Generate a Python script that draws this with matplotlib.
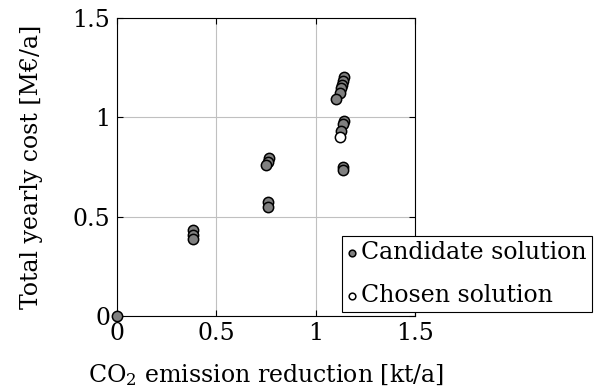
import matplotlib
matplotlib.use("Agg")
import matplotlib.pyplot as plt

plt.rcParams.update({
    "font.family": "serif",
    "font.serif": ["DejaVu Serif"],
    "font.size": 17,
    "mathtext.fontset": "dejavuserif",
})

# candidate solutions (CO2 reduction kt/a, cost M€/a)
cand_x = [0.0, 0.384, 0.384, 0.384,
          0.767, 0.760, 0.750, 0.762, 0.762,
          1.142, 1.139, 1.134, 1.130, 1.122, 1.102,
          1.142, 1.139, 1.130, 1.139, 1.139]
cand_y = [0.0, 0.433, 0.408, 0.388,
          0.794, 0.775, 0.760, 0.575, 0.550,
          1.204, 1.184, 1.163, 1.146, 1.121, 1.090,
          0.981, 0.966, 0.930, 0.748, 0.735]

chosen_x = [1.122]
chosen_y = [0.902]

xticks = [0, 0.5, 1, 1.5]
yticks = [0, 0.5, 1, 1.5]

fig = plt.figure(figsize=(5.95, 3.91), dpi=100)
ax = fig.add_axes([117 / 595, 1 - 316 / 391, 298 / 595, 298 / 391])

ax.scatter(cand_x, cand_y, s=55, facecolor="#808080", edgecolor="black",
           linewidth=1.1, zorder=3, clip_on=False, label="Candidate solution")
ax.scatter(chosen_x, chosen_y, s=55, facecolor="white", edgecolor="black",
           linewidth=1.1, zorder=4, clip_on=False, label="Chosen solution")

ax.set_xlim(0, 1.5)
ax.set_ylim(0, 1.5)
ax.set_xticks(xticks)
ax.set_yticks(yticks)
ax.set_xticklabels(["0", "0.5", "1", "1.5"])
ax.set_yticklabels(["0", "0.5", "1", "1.5"])
ax.grid(True, color="#c0c0c0", linewidth=0.8)
ax.set_axisbelow(True)
ax.tick_params(direction="in", top=True, right=True, length=4)
ax.tick_params(axis="x", pad=4)
ax.tick_params(axis="y", pad=5)
for sp in ax.spines.values():
    sp.set_linewidth(0.8)

ax.set_xlabel("CO$_2$ emission reduction [kt/a]", labelpad=13)
ax.set_ylabel("Total yearly cost [M€/a]", labelpad=21)

leg = ax.legend(loc="lower left", bbox_to_anchor=(0.755, 0.013),
                frameon=True, fancybox=False, framealpha=1, edgecolor="black",
                handlelength=0.4, handletextpad=0.2, borderpad=0.22,
                labelspacing=0.85, markerscale=0.65, borderaxespad=0)
leg.get_frame().set_linewidth(0.8)
leg.set_zorder(5)

fig.savefig("out.png", dpi=100)
